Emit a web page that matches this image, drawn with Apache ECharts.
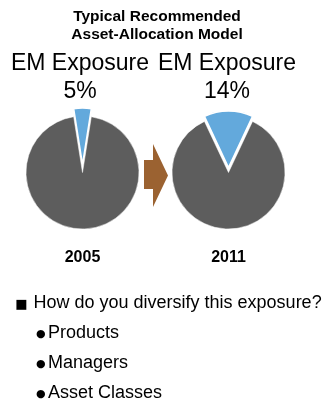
<!DOCTYPE html>
<html>
<head>
<meta charset="utf-8">
<script src="https://cdn.jsdelivr.net/npm/echarts@6/dist/echarts.min.js"></script>
<style>
  html, body { margin: 0; padding: 0; background: #fff; }
  #chart { width: 331px; height: 406px; }
</style>
</head>
<body>
<div id="chart"></div>
<script>
// Emerging-market share of a typical recommended portfolio
const years = ['2005', '2011'];
const emShare = [5, 14];
const headline = ['Typical Recommended', 'Asset-Allocation Model'];
const pieLabel = 'EM Exposure';
const question = 'How do you diversify this exposure?';
const answers = ['Products', 'Managers', 'Asset Classes'];

const FONT = 'Arial, "Liberation Sans", Helvetica, sans-serif';
const BLUE = '#63a9dc';
const GREY = '#5d5d5d';
const BROWN = '#9b6231';

const pieCenters = [82.5, 228.5];
const pieY = 172.5;
const pieR = 56.5;
const explode = [8, 5];

const chart = echarts.init(document.getElementById('chart'), null, { renderer: 'canvas' });

const series = years.map((yr, i) => ({
  type: 'pie',
  name: yr,
  center: [pieCenters[i], pieY],
  radius: [0, pieR],
  startAngle: 90 + emShare[i] * 3.6 / 2,
  clockwise: true,
  selectedMode: 'single',
  selectedOffset: explode[i],
  silent: true,
  animation: false,
  label: { show: false },
  labelLine: { show: false },
  emphasis: { disabled: true },
  data: [
    { name: 'EM', value: emShare[i], selected: true,
      itemStyle: { color: BLUE, borderColor: '#fff', borderWidth: 1.5 } },
    { name: 'Other', value: 100 - emShare[i],
      itemStyle: { color: GREY, borderColor: '#fff', borderWidth: 0.5 } }
  ]
}));

const txt = (x, y, text, size, weight, align, family) => ({
  type: 'text', x: x, y: y, silent: true,
  style: {
    text: text, fill: '#000', font: (weight || 'normal') + ' ' + size + 'px ' + (family || FONT),
    align: align || 'center', verticalAlign: 'middle'
  }
});

const graphics = [];
// heading
graphics.push(txt(157, 17, headline[0], 15.5, 'bold'));
graphics.push(txt(157, 35, headline[1], 15.5, 'bold'));
// per-pie captions and values
years.forEach((yr, i) => {
  const cx = pieCenters[i] + (i === 0 ? -2.5 : -1.5);
  graphics.push(txt(cx, 64, pieLabel, 23));
  graphics.push(txt(cx, 91.5, emShare[i] + '%', 23));
  graphics.push(txt(pieCenters[i], 258, yr, 16, 'bold'));
});
// transition arrow between the two pies
graphics.push({
  type: 'polygon', silent: true,
  shape: { points: [[144, 160], [153, 160], [153, 144], [168, 175.5], [153, 207], [153, 189], [144, 189]] },
  style: { fill: BROWN }
});
// bullet list
graphics.push(txt(21.5, 304.5, '■', 13, 'normal', 'center', '"DejaVu Sans"'));
graphics.push(txt(33.5, 302.6, question, 18, 'normal', 'left'));
answers.forEach((a, k) => {
  const y = 333 + k * 30;
  graphics.push(txt(40.8, y + 1.5, '●', 11, 'normal', 'center', '"DejaVu Sans"'));
  graphics.push(txt(48, y, a, 18, 'normal', 'left'));
});

chart.setOption({
  animation: false,
  series: series,
  graphic: graphics
});
</script>
</body>
</html>
